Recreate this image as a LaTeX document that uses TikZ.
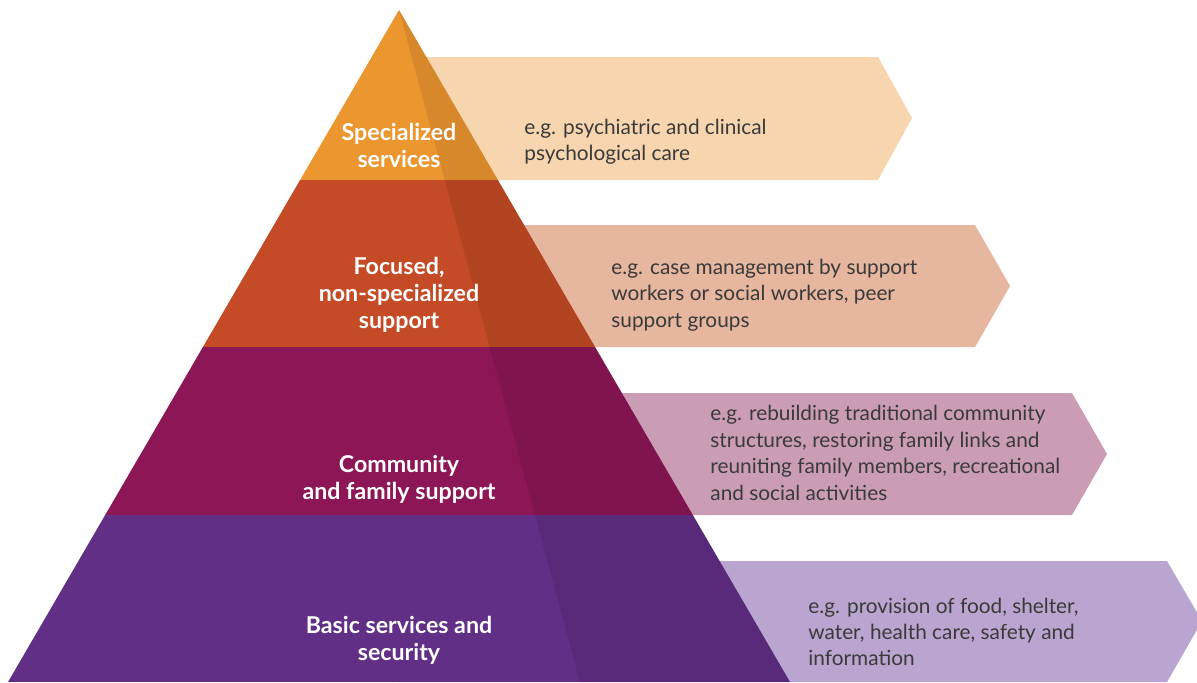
\documentclass[tikz,border=0pt]{standalone}
\usepackage{fontspec}
\setmainfont{Lato}

\definecolor{orangeTier}{HTML}{EC9630}
\definecolor{rustTier}{HTML}{C44B25}
\definecolor{plumTier}{HTML}{8C1656}
\definecolor{violetTier}{HTML}{612F86}
\definecolor{orangeBand}{HTML}{F7D5AF}
\definecolor{rustBand}{HTML}{E6B69F}
\definecolor{plumBand}{HTML}{CB9DB5}
\definecolor{violetBand}{HTML}{B9A5CF}
\definecolor{bodyText}{HTML}{3A3A3A}

\tikzset{
  tierlabel/.style={text=white, inner sep=0pt, align=center,
    font=\bfseries\fontsize{11.6}{13.5}\selectfont},
  exampletext/.style={text=bodyText, inner sep=0pt, align=left, anchor=west,
    font=\fontsize{10.4}{13.2}\selectfont},
}

\begin{document}
\begin{tikzpicture}[x=0.5pt,y=-0.5pt]
  \useasboundingbox (0,0) rectangle (1197,682);
  \clip (0,0) rectangle (1197,682);

  % bands behind the pyramid
  \fill[orangeBand] (399,57) -- (878,57) -- (912,118) -- (878,180) -- (399,180) -- cycle;
  \fill[rustBand]   (399,225) -- (975,225) -- (1010,286) -- (975,347) -- (399,347) -- cycle;
  \fill[plumBand]   (399,393) -- (1072,393) -- (1107,454) -- (1072,515) -- (399,515) -- cycle;
  \fill[violetBand] (399,561) -- (1167,561) -- (1202,621) -- (1167,682) -- (399,682) -- cycle;

  % pyramid tiers
  \begin{scope}
    \clip (399,10) -- (790,682) -- (8,682) -- cycle;
    \fill[orangeTier] (0,0) rectangle (800,180);
    \fill[rustTier]   (0,180) rectangle (800,347);
    \fill[plumTier]   (0,347) rectangle (800,515);
    \fill[violetTier] (0,515) rectangle (800,682);
    \fill[black, opacity=0.09] (399,10) -- (580,682) -- (800,682) -- (800,0) -- cycle;
  \end{scope}

  \node[tierlabel] (specialized) at (399,145) {Specialized\\services};
  \node[tierlabel] (focused) at (399,295) {Focused,\\non-specialized\\support};
  \node[tierlabel] (community) at (399,479) {Community\\and family support};
  \node[tierlabel] (basic) at (399,640) {Basic services and\\security};

  \node[exampletext] (egSpecialized) at (524,142) {e.g. psychiatric and clinical\\psychological care};
  \node[exampletext] (egFocused) at (611,295) {e.g. case management by support\\workers or social workers, peer\\support groups};
  \node[exampletext] (egCommunity) at (710,453) {e.g. rebuilding traditional community\\structures, restoring family links and\\reuniting family members, recreational\\and social activities};
  \node[exampletext] (egBasic) at (808,632) {e.g. provision of food, shelter,\\water, health care, safety and\\information};
\end{tikzpicture}
\end{document}
